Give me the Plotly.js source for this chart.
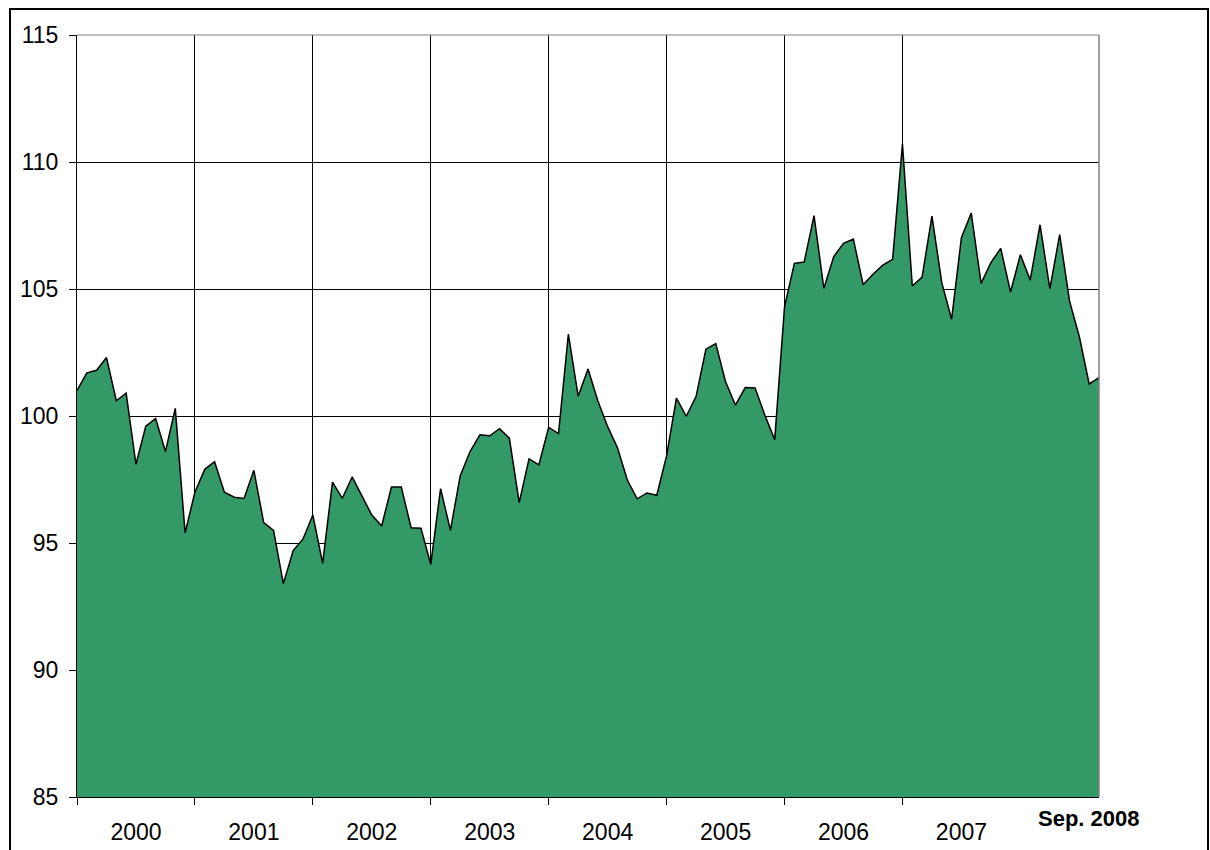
<!DOCTYPE html>
<html>
<head>
<meta charset="utf-8">
<script src="https://cdn.plot.ly/plotly-3.0.1.min.js"></script>
<style>html,body{margin:0;padding:0;background:#fff;}#chart{width:1210px;height:850px;}</style>
</head>
<body>
<div id="chart"></div>
<script>
// Monthly index values, Jan 2000 .. Sep 2008
const values = [
  101.0, 101.7, 101.8, 102.3, 100.6, 100.9, 98.1, 99.6, 99.9, 98.6, 100.3, 95.4,
  97.0, 97.9, 98.2, 97.0, 96.8, 96.75, 97.86, 95.8, 95.5, 93.4, 94.7, 95.16,
  96.1, 94.2, 97.4, 96.76, 97.6, 96.85, 96.1, 95.67, 97.2, 97.2, 95.6, 95.58,
  94.16, 97.14, 95.5, 97.65, 98.6, 99.26, 99.22, 99.5, 99.13, 96.59, 98.31, 98.08,
  99.55, 99.31, 103.22, 100.78, 101.85, 100.6, 99.58, 98.75, 97.48, 96.74, 96.97, 96.88,
  98.44, 100.7, 99.99, 100.77, 102.63, 102.85, 101.35, 100.43, 101.12, 101.1, 100.03, 99.07,
  104.3, 106.01, 106.06, 107.89, 105.03, 106.27, 106.8, 106.97, 105.17, 105.58, 105.94, 106.17,
  110.71, 105.12, 105.47, 107.87, 105.25, 103.81, 107.02, 107.99, 105.22, 106.04, 106.6, 104.88,
  106.35, 105.35, 107.53, 105.01, 107.14, 104.53, 103.12, 101.26, 101.51
];
const years = ['2000', '2001', '2002', '2003', '2004', '2005', '2006', '2007'];
const lastLabel = 'Sep. 2008';
const yTicks = [85, 90, 95, 100, 105, 110, 115];

const monthsPerYear = 12;
const x = values.map((v, i) => i);
const lastX = x[x.length - 1];
const yearStarts = years.map((y, i) => i * monthsPerYear);
const yearMids = years.map((y, i) => i * monthsPerYear + monthsPerYear / 2);

const FONT = 'Liberation Sans, Arial, sans-serif';

const trace = {
  x: x, y: values, type: 'scatter', mode: 'lines',
  fill: 'tozeroy', fillcolor: '#339966',
  line: {color: '#000000', width: 1.5},
  hoverinfo: 'x+y', showlegend: false
};
// invisible helper trace for the year labels axis
const labelTrace = {
  x: [0, lastX], y: [85, 85], xaxis: 'x2', yaxis: 'y', mode: 'markers',
  marker: {opacity: 0}, hoverinfo: 'skip', showlegend: false
};

const PL = 77, PR = 1099, PT = 35, PB = 797, W = 1210, H = 850;
const pw = PR - PL, ph = PB - PT;

const layout = {
  width: W, height: H,
  margin: {l: PL, r: W - PR, t: PT, b: H - PB, pad: 0},
  paper_bgcolor: '#ffffff', plot_bgcolor: '#ffffff',
  font: {family: FONT, size: 23, color: '#000000'},
  showlegend: false,
  xaxis: {
    type: 'linear', range: [0, lastX], fixedrange: true,
    tickmode: 'array', tickvals: yearStarts, showticklabels: false,
    ticks: 'outside', ticklen: 7, tickcolor: '#000000', tickwidth: 1,
    showgrid: true, gridcolor: '#000000', gridwidth: 1,
    showline: true, linecolor: '#000000', linewidth: 1,
    zeroline: false
  },
  xaxis2: {
    type: 'linear', range: [0, lastX], overlaying: 'x', anchor: 'y', side: 'bottom',
    tickmode: 'array', tickvals: yearMids, ticktext: years,
    ticks: 'outside', ticklen: 14, tickcolor: 'rgba(0,0,0,0)',
    showgrid: false, showline: false, zeroline: false,
    tickfont: {family: FONT, size: 23, color: '#000000'}
  },
  yaxis: {
    range: [85, 115], fixedrange: true,
    tickmode: 'array', tickvals: yTicks,
    ticks: 'outside', ticklen: 7, tickcolor: '#000000', tickwidth: 1,
    ticklabelstandoff: 6,
    showgrid: true, gridcolor: '#000000', gridwidth: 1,
    showline: true, linecolor: '#000000', linewidth: 1,
    zeroline: false,
    tickfont: {family: FONT, size: 23, color: '#000000'}
  },
  shapes: [
    // plot area border (top & right in gray)
    {type: 'line', xref: 'paper', yref: 'paper', x0: 0, x1: 1, y0: 1, y1: 1,
     line: {color: '#808080', width: 1}},
    {type: 'line', xref: 'paper', yref: 'paper', x0: 1, x1: 1, y0: 0, y1: 1,
     line: {color: '#808080', width: 1.5}},
    // outer chart frame
    {type: 'rect', xref: 'paper', yref: 'paper',
     x0: (10 - PL) / pw, x1: (1208 - PL) / pw,
     y0: (PB - 870) / ph, y1: (PB - 9) / ph,
     line: {color: '#000000', width: 2}, fillcolor: 'rgba(0,0,0,0)', layer: 'above'}
  ],
  annotations: [
    {x: lastX, y: 0, xref: 'x', yref: 'paper', text: '<b>' + lastLabel + '</b>',
     showarrow: false, xanchor: 'center', yanchor: 'top', xshift: -10, yshift: -7,
     font: {family: FONT, size: 22, color: '#000000'}}
  ]
};

Plotly.newPlot('chart', [trace, labelTrace], layout, {displayModeBar: false, staticPlot: true});
</script>
</body>
</html>
